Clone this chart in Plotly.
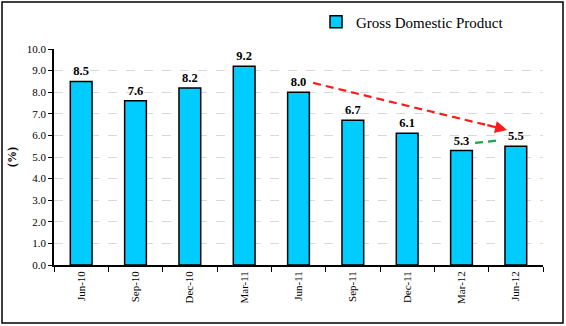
import plotly.graph_objects as go

quarters = ["Jun-10", "Sep-10", "Dec-10", "Mar-11", "Jun-11",
            "Sep-11", "Dec-11", "Mar-12", "Jun-12"]
gdp = [8.5, 7.6, 8.2, 9.2, 8.0, 6.7, 6.1, 5.3, 5.5]

# trend arrows (category index, value) start -> end
red_arrow = [(4.27, 8.43), (7.84, 6.25)]
green_arrow = [(7.25, 5.65), (7.76, 5.79)]

W, H = 566, 326
L, R, T, B = 54, 23, 49, 61
pw, ph = W - L - R, H - T - B

serif = "Liberation Serif"

fig = go.Figure()
fig.add_trace(go.Bar(
    x=quarters, y=gdp, name="Gross Domestic Product",
    marker=dict(color="#00CCFF", line=dict(color="black", width=1.5)),
    text=[f"<b>{v:.1f}</b>" for v in gdp], textposition="outside",
    textfont=dict(family=serif, size=12.5, color="black"),
    cliponaxis=False, showlegend=True,
))

shapes = []
annotations = []
for (p0, p1), col in [(red_arrow, "#FF1A1A"), (green_arrow, "#19A64A")]:
    (x0, y0), (x1, y1) = p0, p1
    # dashed body stops a little short of the head
    fx = x0 + (x1 - x0) * 0.92
    fy = y0 + (y1 - y0) * 0.92
    shapes.append(dict(type="line", xref="x", yref="y", x0=x0, y0=y0, x1=fx, y1=fy,
                       line=dict(color=col, width=2.2, dash="8px,5px")))
    annotations.append(dict(x=x1, y=y1, ax=fx - (x1 - x0) * 0.03, ay=fy - (y1 - y0) * 0.03,
                            xref="x", yref="y", axref="x", ayref="y", text="",
                            showarrow=True, arrowhead=2, arrowsize=1.1, arrowwidth=2.2,
                            arrowcolor=col))

# outer chart frame
shapes.append(dict(type="rect", xref="paper", yref="paper",
                   x0=(2 - L) / pw, x1=(W - 3 - L) / pw,
                   y0=(H - B - (H - 3)) / ph, y1=(H - B - 2) / ph,
                   line=dict(color="black", width=1.5), layer="below"))

fig.update_layout(
    width=W, height=H,
    margin=dict(l=L, r=R, t=T, b=B, autoexpand=False),
    paper_bgcolor="white", plot_bgcolor="white",
    bargap=0.6,
    font=dict(family=serif, color="black"),
    shapes=shapes, annotations=annotations,
    legend=dict(xref="container", yref="container",
                x=509 / W, y=1 - 22 / H, xanchor="right", yanchor="middle",
                font=dict(family=serif, size=15, color="black"),
                bgcolor="rgba(0,0,0,0)", itemwidth=30),
    xaxis=dict(type="category", tickson="boundaries", ticks="outside", ticklen=5,
               tickcolor="black", showline=True, linecolor="black", linewidth=1.5,
               tickangle=-90, tickfont=dict(family=serif, size=11, color="black"),
               showgrid=False),
    yaxis=dict(range=[0, 10], dtick=1, tickformat=".1f", ticks="outside", ticklen=4,
               tickcolor="black", showline=True, linecolor="black", linewidth=1.5,
               tickfont=dict(family=serif, size=11, color="black"),
               showgrid=True, gridcolor="#D9D9D9", griddash="dash", gridwidth=1,
               zeroline=False,
               title=dict(text="<b>(%)</b>", font=dict(family=serif, size=12, color="black"),
                          standoff=8)),
)

fig.write_html("out.html")
